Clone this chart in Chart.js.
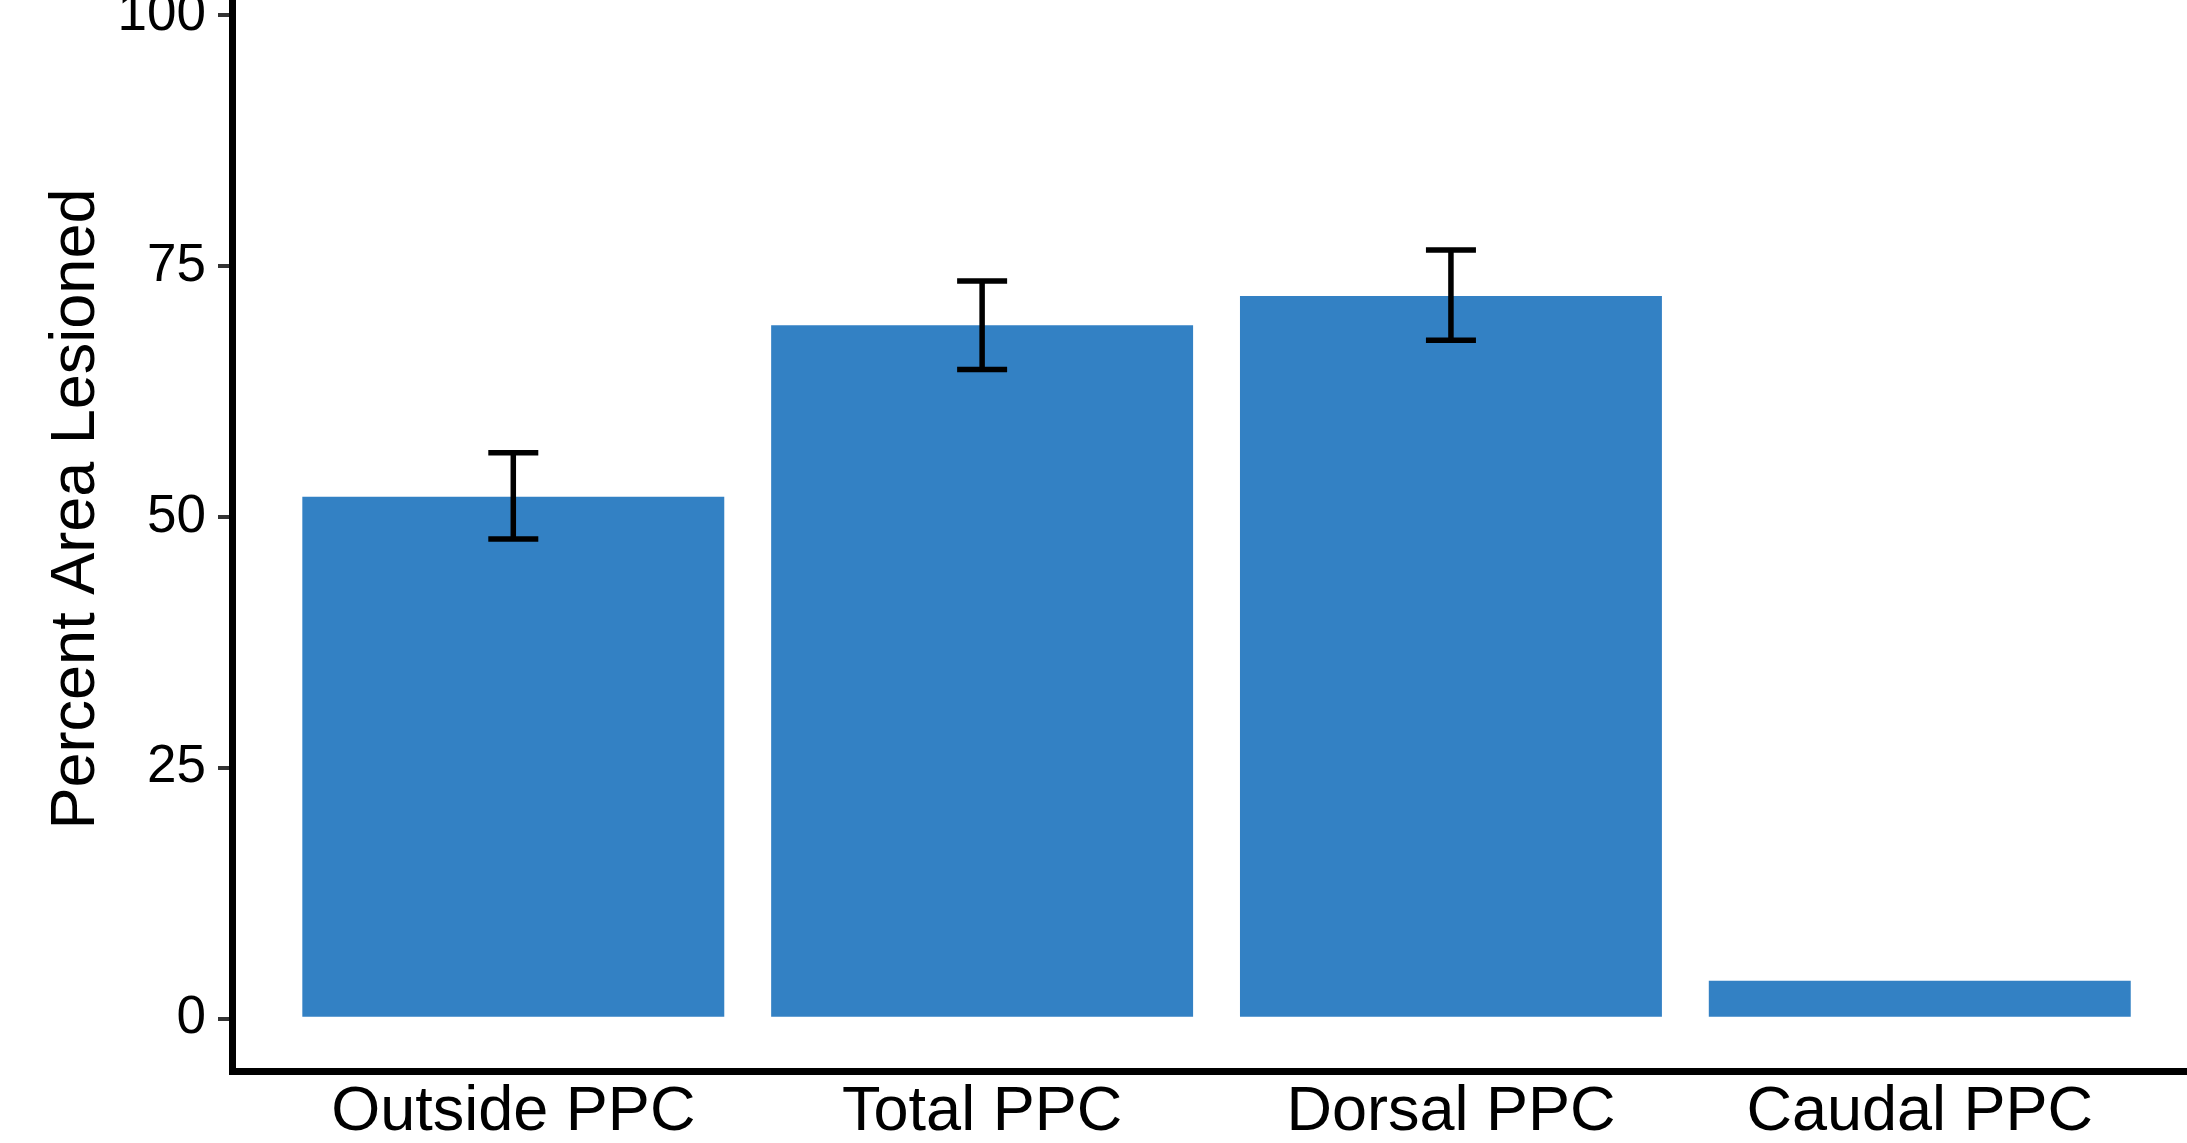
<!DOCTYPE html>
<html lang="en">
<head>
    <meta charset="UTF-8">
    <title>Percent Area Lesioned</title>

    <!-- Chart.js CDN -->
    <script src="https://cdn.jsdelivr.net/npm/chart.js"></script>

    <style>
        html, body {
            margin: 0;
            padding: 0;
            background: #fff;
            overflow: hidden;
        }

        .chart-box {
            width: 2187px;
            height: 1143px;
        }
    </style>
</head>
<body>

    <div class="chart-box">
        <canvas id="lesionChart"></canvas>
    </div>

    <script>
        // Data
        const categories = ['Outside PPC', 'Total PPC', 'Dorsal PPC', 'Caudal PPC'];
        const lesionMeans = [52.0, 69.1, 72.0, 3.8];
        const errLow = [47.8, 64.7, 67.6, null];
        const errHigh = [56.4, 73.5, 76.6, null];
        const yTicks = [0, 25, 50, 75, 100];
        const yTitle = 'Percent Area Lesioned';

        const FONT = "'Liberation Sans', Arial, Helvetica, sans-serif";

        // draws the mean +/- error whiskers on top of the bars
        const errorBars = {
            id: 'errorBars',
            afterDatasetsDraw(chart) {
                const { ctx, scales: { x, y } } = chart;
                ctx.save();
                ctx.strokeStyle = '#000';
                ctx.lineWidth = 5.5;
                categories.forEach((c, i) => {
                    if (errLow[i] == null) return;
                    const px = x.getPixelForValue(i + 1);
                    const top = y.getPixelForValue(errHigh[i]);
                    const bot = y.getPixelForValue(errLow[i]);
                    const half = 25;
                    ctx.beginPath();
                    ctx.moveTo(px, top);
                    ctx.lineTo(px, bot);
                    ctx.moveTo(px - half, top);
                    ctx.lineTo(px + half, top);
                    ctx.moveTo(px - half, bot);
                    ctx.lineTo(px + half, bot);
                    ctx.stroke();
                });
                ctx.restore();
            }
        };

        // y axis title, centred on the (taller, cropped) original panel
        const yAxisTitle = {
            id: 'yAxisTitle',
            afterDraw(chart) {
                const { ctx } = chart;
                ctx.save();
                ctx.translate(77, 509);
                ctx.rotate(-Math.PI / 2);
                ctx.fillStyle = '#000';
                ctx.font = '63px ' + FONT;
                ctx.textAlign = 'center';
                ctx.textBaseline = 'middle';
                ctx.fillText(yTitle, 0, 0);
                ctx.restore();
            }
        };

        const ctx = document.getElementById('lesionChart').getContext('2d');
        const lesionChart = new Chart(ctx, {
            type: 'bar',
            data: {
                datasets: [{
                    label: yTitle,
                    data: lesionMeans.map((v, i) => ({ x: i + 1, y: v })),
                    backgroundColor: '#3381c4',
                    borderWidth: 0,
                    barPercentage: 0.9,
                    categoryPercentage: 1.0
                }]
            },
            options: {
                responsive: true,
                maintainAspectRatio: false,
                animation: false,
                layout: { padding: 0, autoPadding: false },
                plugins: {
                    legend: { display: false },
                    tooltip: { enabled: false }
                },
                scales: {
                    x: {
                        type: 'linear',
                        offset: false,
                        min: 0.4,
                        max: 4.57,
                        grid: { display: false, offset: false },
                        border: { display: true, color: '#000', width: 7 },
                        afterBuildTicks: (scale) => {
                            scale.ticks = categories.map((c, i) => ({ value: i + 1 }));
                        },
                        afterFit: (scale) => {
                            scale.height = 72;
                            scale.paddingLeft = 0;
                            scale.paddingRight = 0;
                        },
                        ticks: {
                            autoSkip: false,
                            maxRotation: 0,
                            padding: -4,
                            color: '#000',
                            font: { family: FONT, size: 63 },
                            callback: (v) => categories[v - 1] || ''
                        }
                    },
                    y: {
                        min: -5.2,
                        max: 101.5,
                        grid: {
                            display: true,
                            drawOnChartArea: false,
                            drawTicks: true,
                            tickLength: 14,
                            color: '#333',
                            lineWidth: 4
                        },
                        border: { display: true, color: '#000', width: 7 },
                        afterBuildTicks: (scale) => {
                            scale.ticks = yTicks.map(v => ({ value: v }));
                        },
                        afterFit: (scale) => {
                            scale.width = 232;
                            scale.paddingTop = 0;
                            scale.paddingBottom = 0;
                        },
                        ticks: {
                            padding: 12,
                            color: '#000',
                            font: { family: FONT, size: 53 }
                        }
                    }
                }
            },
            plugins: [errorBars, yAxisTitle]
        });
    </script>

</body>
</html>
